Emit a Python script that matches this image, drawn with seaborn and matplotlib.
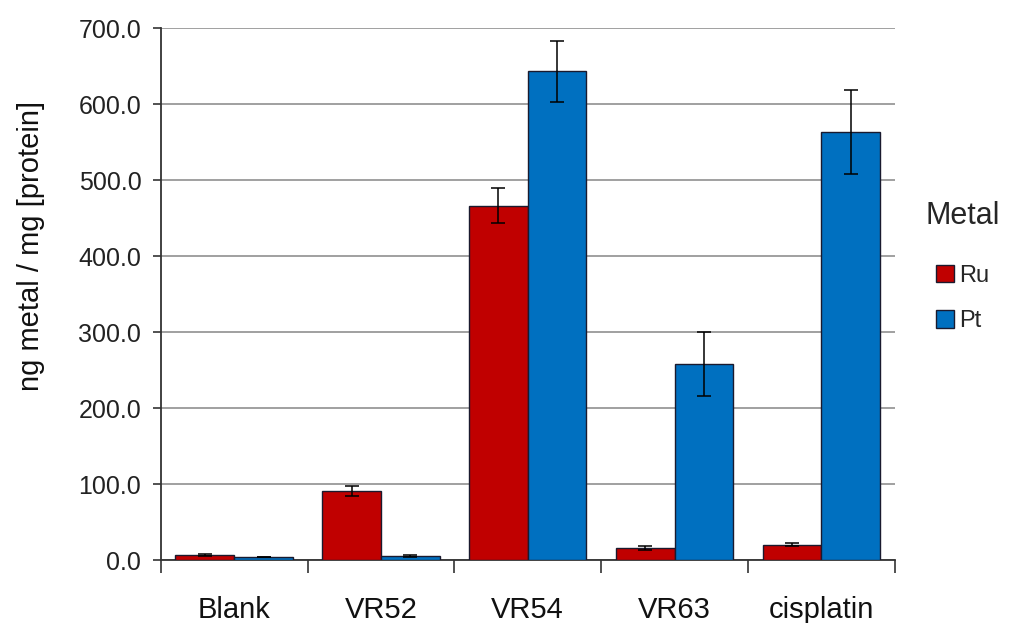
import matplotlib
matplotlib.use("Agg")
import matplotlib.pyplot as plt
import seaborn as sns
import pandas as pd
import numpy as np

categories = ["Blank", "VR52", "VR54", "VR63", "cisplatin"]
metals = ["Ru", "Pt"]
ru_values = [7, 91, 466, 16, 20]
pt_values = [4, 5, 643, 258, 563]
ru_errors = [1.5, 7, 23, 3, 2]
pt_errors = [0.5, 1.5, 40, 42, 55]
yticks = [0, 100, 200, 300, 400, 500, 600, 700]

colors = {"Ru": "#C00000", "Pt": "#0070C0"}

df = pd.DataFrame({
    "Sample": categories * 2,
    "Metal": ["Ru"] * len(categories) + ["Pt"] * len(categories),
    "Value": ru_values + pt_values,
})

sns.set_style("white")
plt.rcParams["font.family"] = ["Liberation Sans", "DejaVu Sans"]

fig = plt.figure(figsize=(10.11, 6.23), dpi=100)
ax = fig.add_axes([0.159, 0.101, 0.726, 0.854])

sns.barplot(data=df, x="Sample", y="Value", hue="Metal", order=categories,
            hue_order=metals, palette=colors, edgecolor="#1a1a2e", linewidth=1.0,
            errorbar=None, width=0.8, ax=ax, saturation=1, zorder=3)

errs = {"Ru": ru_errors, "Pt": pt_errors}
vals = {"Ru": ru_values, "Pt": pt_values}
for cont, metal in zip(ax.containers, metals):
    xs = [p.get_x() + p.get_width() / 2 for p in cont.patches]
    ax.errorbar(xs, vals[metal], yerr=errs[metal], fmt="none", ecolor="black",
                elinewidth=1.1, capsize=5, capthick=1.1, zorder=4)

ax.set_ylim(0, 700)
ax.set_xlim(-0.5, 4.5)
ax.set_yticks(yticks)
ax.set_yticklabels([f"{v:.1f}" for v in yticks])
ax.yaxis.grid(True, color="#A0A0A0", linewidth=1.4, zorder=0)
ax.set_axisbelow(True)
ax.tick_params(axis="y", labelsize=18, length=6, width=1.2, color="#333333",
               left=True, direction="out", pad=8, labelcolor="#222222")
ax.tick_params(axis="x", which="major", labelsize=21, length=0, pad=26,
               labelcolor="#111111")
ax.set_xticks(np.arange(-0.5, 5.0, 1.0), minor=True)
ax.tick_params(axis="x", which="minor", length=9, width=1.2, color="#333333",
               bottom=True, direction="out")

for s in ["top", "right"]:
    ax.spines[s].set_visible(False)
for s in ["left", "bottom"]:
    ax.spines[s].set_color("#333333")
    ax.spines[s].set_linewidth(1.3)

ax.set_xlabel("")
ax.set_ylabel("ng metal / mg [protein]", fontsize=21, color="#111111")
ax.yaxis.set_label_coords(-0.158, 0.59)

leg = ax.legend(title="Metal", frameon=False, loc="upper left",
                bbox_to_anchor=(1.016, 0.71), fontsize=17, title_fontsize=22,
                handlelength=0.75, handleheight=0.75, handletextpad=0.2,
                labelspacing=1.0, borderpad=0.3)
leg._legend_box.sep = 24

fig.savefig("out.png", dpi=100)
